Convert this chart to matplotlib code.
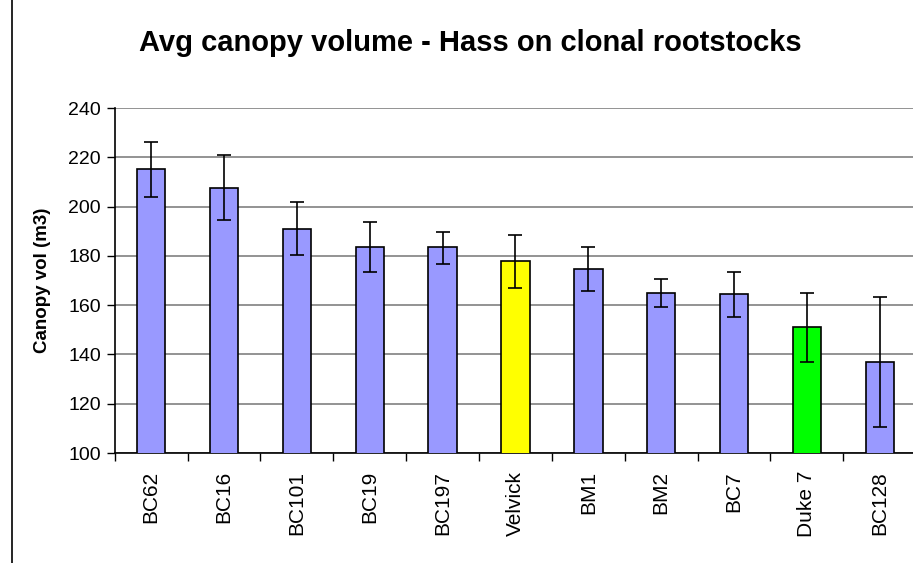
import numpy as np
import matplotlib.pyplot as plt
from matplotlib.lines import Line2D

plt.rcParams['font.family'] = ['Liberation Sans', 'DejaVu Sans']

# Data
rootstocks = ["BC62", "BC16", "BC101", "BC19", "BC197", "Velvick", "BM1", "BM2", "BC7", "Duke 7", "BC128"]
canopy_vol = [215.4, 207.4, 190.8, 183.5, 183.5, 178.0, 174.8, 165.1, 164.5, 151.0, 136.9]
err_upper = [226.3, 220.9, 202.0, 193.9, 189.8, 188.5, 183.6, 170.6, 173.6, 165.1, 163.3]
err_lower = [203.8, 194.6, 180.5, 173.6, 176.8, 166.8, 165.7, 159.1, 155.2, 136.9, 110.6]
bar_colors = ["#9999FF"] * 5 + ["#FFFF00"] + ["#9999FF"] * 3 + ["#00FF00", "#9999FF"]

vals = np.array(canopy_vol)
yerr = [vals - np.array(err_lower), np.array(err_upper) - vals]
x = np.arange(len(rootstocks))

W, H = 913, 563
fig = plt.figure(figsize=(W / 100, H / 100), dpi=100)
ax = fig.add_axes([114.7 / W, 1 - 453 / H, (916.2 - 114.7) / W, (453 - 108) / H])

ax.bar(x, vals, width=0.39, color=bar_colors, edgecolor="black", linewidth=1.2, zorder=3)
ax.errorbar(x, vals, yerr=yerr, fmt="none", ecolor="black", elinewidth=1.2,
            capsize=5, capthick=1.2, zorder=4)

ax.set_xlim(-0.5, len(rootstocks) - 0.5)
ax.set_ylim(100, 240)
ax.set_yticks(np.arange(100, 241, 20))
ax.yaxis.grid(True, color="#808080", linewidth=1.2, zorder=0)
ax.set_axisbelow(True)

ax.set_xticks(x)
ax.set_xticklabels(rootstocks, rotation=90, fontsize=15)
ax.set_xticks(np.arange(-0.5, len(rootstocks), 1), minor=True)
ax.tick_params(axis="x", which="major", length=0, pad=13)
ax.tick_params(axis="x", which="minor", length=6, width=1, direction="out")
ax.tick_params(axis="y", length=6, width=1, labelsize=14, pad=4)

for s in ["top", "right"]:
    ax.spines[s].set_visible(False)
ax.spines["left"].set_linewidth(1.2)
ax.spines["bottom"].set_linewidth(1.2)

ax.set_ylabel("Canopy vol (m3)", fontsize=13.5, fontweight="bold", labelpad=12)
fig.text(470 / W, 1 - 43 / H, "Avg canopy volume - Hass on clonal rootstocks",
         ha="center", va="center", fontsize=21, fontweight="bold")

# chart area border on the left
fig.add_artist(Line2D([12 / W, 12 / W], [0, 1], color="black", linewidth=1.2))

fig.savefig("out.png", dpi=100)
